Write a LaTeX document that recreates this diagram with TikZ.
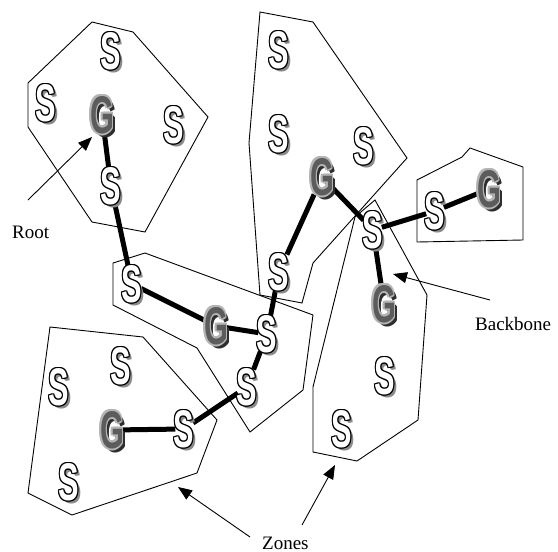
\documentclass[tikz,border=0pt]{standalone}
\usepackage{fontspec}
\setmainfont{Liberation Serif}
\newfontfamily\glyphfont{Liberation Sans}
\usetikzlibrary{arrows.meta}
\pgfdeclarelayer{bg}
\pgfsetlayers{bg,main}
\definecolor{sshadow}{HTML}{8A8A8A}
\definecolor{gfill}{HTML}{5C5C5C}
\definecolor{ghalo}{HTML}{B4B4B4}
\definecolor{gshadow}{HTML}{2E2E2E}
\tikzset{
  glyph/.style={inner sep=0pt, outer sep=0.5pt, font=\glyphfont\bfseries\fontsize{53}{53}\selectfont},
  zone/.style={draw=black, line width=0.9pt, line join=miter},
  bone/.style={draw=black, line width=5pt, shorten <=-2pt, shorten >=-2pt},
  pointer/.style={draw=black, line width=0.9pt, -{Triangle[length=14pt,width=11pt]}},
  lbl/.style={font=\fontsize{19}{22}\selectfont, inner sep=0pt, anchor=base west},
}
\newcommand\glS{\scalebox{0.58}[1]{S}}
\newcommand\glG{\scalebox{0.58}[1]{G}}
\newcommand\nodeS[2]{%
  \foreach \d in {1,1.6,2.2,2.8}{\node[glyph,text=sshadow] at ([shift={(\d,\d)}]#2) {\glS};}
  \foreach \a in {0,45,...,315}{\node[glyph,text=black] at ([shift={(\a:1.2)}]#2) {\glS};}
  \node[glyph,text=white] (#1) at (#2) {\glS};
}
\newcommand\nodeG[2]{%
  \foreach \d in {1.5,2.3,3.1,3.8}{\node[glyph,text=gshadow] at ([shift={(\d,\d)}]#2) {\glG};}
  \foreach \a in {0,45,...,315}{\node[glyph,text=ghalo] at ([shift={(\a:1.9)}]#2) {\glG};}
  \node[glyph,text=gfill] (#1) at (#2) {\glG};
}
\begin{document}
\begin{tikzpicture}[x=1pt,y=-1pt]
\useasboundingbox (0,0) rectangle (558,552);
% zone 1
\nodeS{s1a}{111,51}
\nodeS{s1b}{46,103}
\nodeG{g1}{102,115}
\nodeS{s1c}{174,125}
\nodeS{s1d}{111,186}
% zone 2
\nodeS{s2a}{279,50}
\nodeS{s2b}{279,134}
\nodeS{s2c}{364,146}
\nodeG{g2}{322,177}
\nodeS{s2d}{279,272}
% zone 3
\nodeS{s3a}{132,284}
\nodeG{g3}{216,326}
\nodeS{s3b}{267,334}
\nodeS{s3c}{247,387}
% zone 5
\nodeS{s5a}{59,387}
\nodeS{s5b}{121,366}
\nodeG{g5}{112,430}
\nodeS{s5c}{184,429}
\nodeS{s5d}{69,482}
% zone 4
\nodeS{s4a}{373,230}
\nodeG{g4}{384,304}
\nodeS{s4b}{385,376}
\nodeS{s4c}{342,429}
% zone 6
\nodeS{s6a}{435,211}
\nodeG{g6}{489,189}
\begin{pgfonlayer}{bg}
\fill[white] (0,0) rectangle (558,552);
\draw[zone] (28,83) -- (92,22) -- (133,32) -- (208,117) -- (145,232) -- (92,222) -- (28,127) -- cycle;
\draw[zone] (260,12) -- (313,22) -- (407,158) -- (313,263) -- (302,303) -- (260,295) -- (249,143) -- cycle;
\draw[zone] (113,263) -- (145,253) -- (313,315) -- (303,390) -- (250,432) -- (197,348) -- (113,305) -- cycle;
\draw[zone] (375,200) -- (427,295) -- (418,420) -- (357,461) -- (313,452) -- (313,387) -- (355,217) -- cycle;
\draw[zone] (50,327) -- (143,337) -- (217,420) -- (197,473) -- (72,515) -- (28,493) -- cycle;
\draw[zone] (417,180) -- (462,157) -- (470,148) -- (523,167) -- (523,240) -- (417,242) -- cycle;
\draw[bone] (g1) -- (s1d);
\draw[bone] (s1d) -- (s3a);
\draw[bone] (s3a) -- (g3);
\draw[bone] (g3) -- (s3b);
\draw[bone] (s3b) -- (s2d);
\draw[bone] (s2d) -- (g2);
\draw[bone] (g2) -- (s4a);
\draw[bone] (s4a) -- (s6a);
\draw[bone] (s6a) -- (g6);
\draw[bone] (s4a) -- (g4);
\draw[bone] (s3b) -- (s3c);
\draw[bone] (s3c) -- (s5c);
\draw[bone] (s5c) -- (g5);
\end{pgfonlayer}
% labels and pointers
\node[lbl] (root) at (12,238) {Root};
\node[lbl] (backbone) at (475,330) {Backbone};
\node[lbl] (zones) at (262,549) {Zones};
\coordinate (rootfrom) at (28,200);
\coordinate (roottip) at (92,137);
\coordinate (bbfrom) at (490,300);
\coordinate (bbtip) at (393,274);
\coordinate (z1from) at (250,537);
\coordinate (z1tip) at (178,487);
\coordinate (z2from) at (302,525);
\coordinate (z2tip) at (335,465);
\draw[pointer] (rootfrom) -- (roottip);
\draw[pointer] (bbfrom) -- (bbtip);
\draw[pointer] (z1from) -- (z1tip);
\draw[pointer] (z2from) -- (z2tip);
\end{tikzpicture}
\end{document}
